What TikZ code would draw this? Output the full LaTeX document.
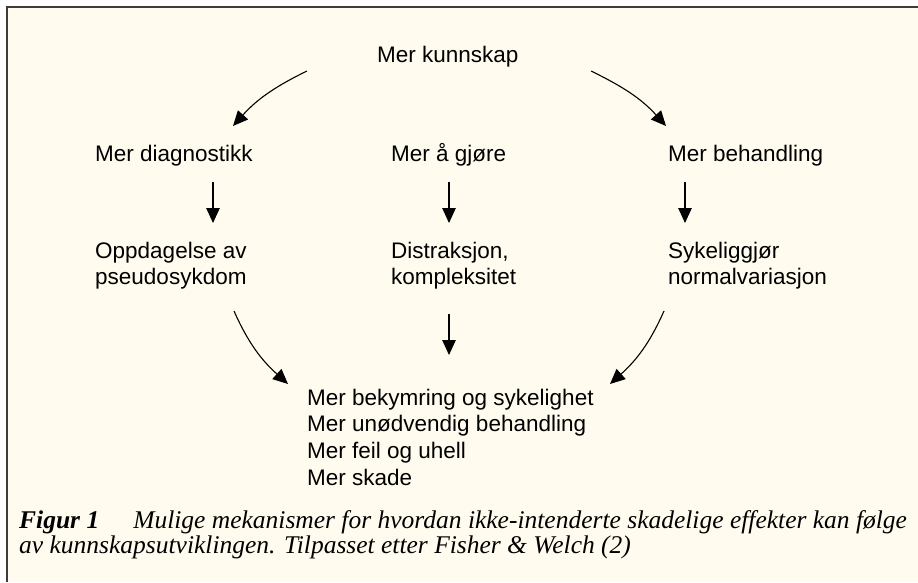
\documentclass[tikz,border=0pt]{standalone}
\usepackage{fontspec}
\setmainfont{Liberation Sans}
\newfontfamily\capfont{Liberation Serif}
\usetikzlibrary{arrows.meta,calc}
\definecolor{cream}{RGB}{255,252,239}
\definecolor{framegray}{RGB}{60,60,60}
\tikzset{
  lbl/.style={inner sep=0pt, font=\fontsize{22.5}{26.7}\selectfont, text=black},
  lblb/.style={lbl, anchor=base west},
  lblm/.style={lbl, anchor=north west, align=left},
  arr/.style={line width=1.1pt, -{Triangle[length=15pt,width=13.5pt]}},
  captxt/.style={inner sep=0pt, anchor=north west, align=left,
    font=\capfont\itshape\fontsize{25.5}{25}\selectfont}
}
\begin{document}
\begin{tikzpicture}[x=1pt,y=-1pt]
\useasboundingbox (0,0) rectangle (918,582);
\fill[white] (0,0) rectangle (918,582);
\fill[cream] (7,7) rectangle (918,582);
\draw[framegray, line width=1.3pt] (7,582) -- (7,7) -- (918,7);

% texts
\node[lblb] (top) at (377,62) {Mer kunnskap};
\node[lblb] (dia) at (95,161) {Mer diagnostikk};
\node[lblb] (gjo) at (391,161) {Mer å gjøre};
\node[lblb] (beh) at (668,161) {Mer behandling};
\node[lblm] (pse) at (95,241.7) {Oppdagelse av\\pseudosykdom};
\node[lblm] (dis) at (391,241.7) {Distraksjon,\\kompleksitet};
\node[lblm] (syk) at (668,241.7) {Sykeliggjør\\normalvariasjon};
\node[lblm] (res) at (307,388.7) {Mer bekymring og sykelighet\\Mer unødvendig behandling\\Mer feil og uhell\\Mer skade};
\node[captxt] (caption) at (19,510) {{\bfseries Figur 1}\hspace{34pt}Mulige mekanismer for hvordan ikke-intenderte skadelige effekter kan følge\\av kunnskapsutviklingen. Tilpasset etter Fisher \& Welch (2)};

% connector end points
\coordinate (t1) at (307,71);  \coordinate (d1) at (233,126);
\coordinate (t2) at (591,71);  \coordinate (b1) at (666,126);
\coordinate (d2) at (213,182); \coordinate (p1) at (213,223);
\coordinate (g2) at (449,182); \coordinate (k1) at (449,223);
\coordinate (b2) at (685,182); \coordinate (s1) at (685,223);
\coordinate (p2) at (234,311); \coordinate (r1) at (288,384);
\coordinate (k2) at (449,314); \coordinate (r2) at (449,355);
\coordinate (s2) at (664,311); \coordinate (r3) at (610,384);

\draw[arr] (t1) to[out=206, in=48] (d1);
\draw[arr] (t2) to[out=-26, in=132] (b1);
\draw[arr] (d2) -- (p1);
\draw[arr] (g2) -- (k1);
\draw[arr] (b2) -- (s1);
\draw[arr] (p2) to[out=-66, in=138] (r1);
\draw[arr] (k2) -- (r2);
\draw[arr] (s2) to[out=-114, in=42] (r3);
\end{tikzpicture}
\end{document}
